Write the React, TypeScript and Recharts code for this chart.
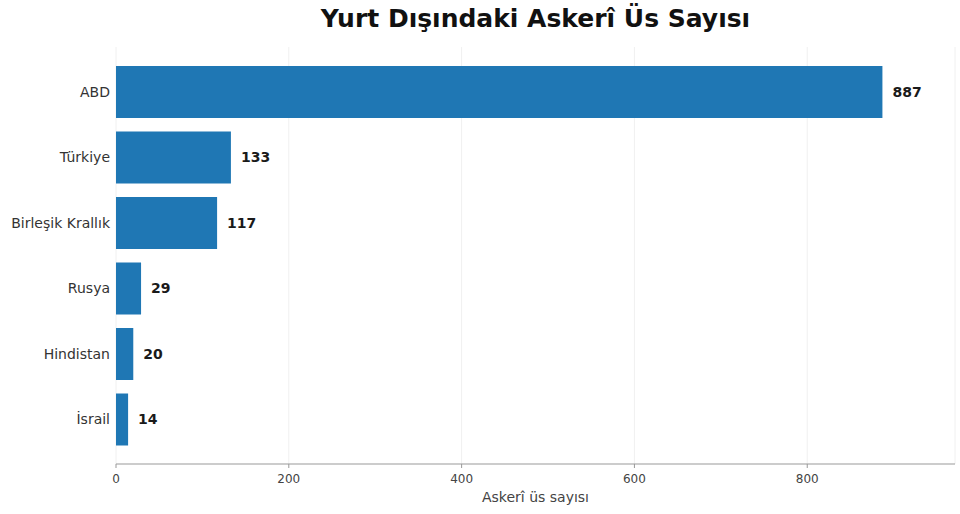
import React from 'react';
import { BarChart, Bar, XAxis, YAxis, CartesianGrid, LabelList } from 'recharts';

const countries = ['ABD', 'Türkiye', 'Birleşik Krallık', 'Rusya', 'Hindistan', 'İsrail'];
const bases = [887, 133, 117, 29, 20, 14];
const xTicks = [0, 200, 400, 600, 800];

const data = countries.map((name, i) => ({ name, bases: bases[i] }));

const FONT = '"DejaVu Sans", Verdana, sans-serif';

export default function App() {
  return (
    <div style={{ position: 'absolute', left: 0, top: 0, width: 960, height: 514, background: '#fff', fontFamily: FONT }}>
      <div
        style={{
          position: 'absolute',
          top: 4,
          left: 116,
          width: 839,
          textAlign: 'center',
          fontSize: 25,
          fontWeight: 'bold',
          color: '#111',
        }}
      >
        Yurt Dışındaki Askerî Üs Sayısı
      </div>
      <BarChart
        width={960}
        height={514}
        data={data}
        layout="vertical"
        margin={{ top: 47, right: 5, bottom: 8, left: 0 }}
        barSize={52}
      >
        <CartesianGrid horizontal={false} stroke="#f0f0f0" />
        <XAxis
          type="number"
          domain={[0, 971]}
          ticks={xTicks}
          allowDataOverflow
          stroke="#999"
          tickSize={4}
          tickMargin={6}
          tick={{ fill: '#444', fontSize: 12, fontFamily: FONT }}
          height={42}
          label={{ value: 'Askerî üs sayısı', position: 'insideBottom', offset: 4, fill: '#444', fontSize: 14, fontFamily: FONT }}
        />
        <YAxis
          type="category"
          dataKey="name"
          width={116}
          axisLine={false}
          tickLine={false}
          padding={{ top: 12, bottom: 12 }}
          tick={{ fill: '#333', fontSize: 14, fontFamily: FONT }}
          tickMargin={0}
        />
        <Bar dataKey="bases" fill="#1f77b4" isAnimationActive={false}>
          <LabelList
            dataKey="bases"
            position="right"
            offset={10}
            style={{ fill: '#1a1a1a', fontSize: 14, fontWeight: 'bold', fontFamily: FONT }}
          />
        </Bar>
      </BarChart>
    </div>
  );
}
